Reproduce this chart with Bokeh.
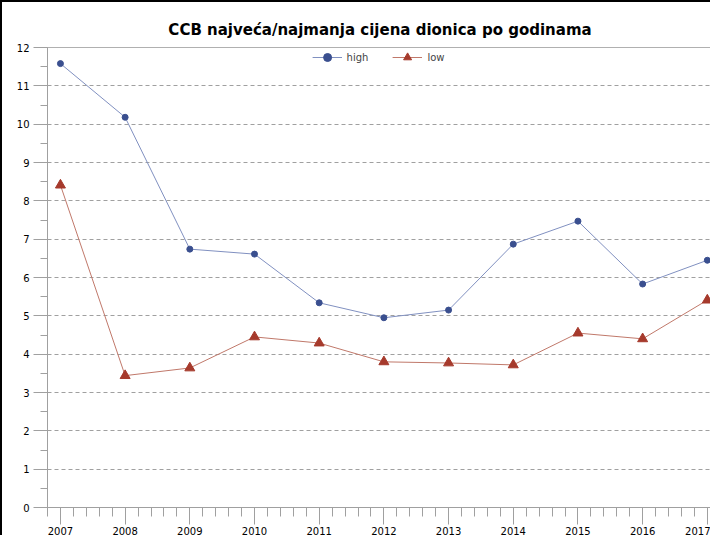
from bokeh.plotting import figure
from bokeh.models import SingleIntervalTicker, Range1d, Legend, LegendItem
from bokeh.embed import file_html
from bokeh.resources import INLINE

years = [2007, 2008, 2009, 2010, 2011, 2012, 2013, 2014, 2015, 2016, 2017]
high = [11.58, 10.18, 6.74, 6.61, 5.34, 4.95, 5.15, 6.87, 7.47, 5.83, 6.45]
low = [8.41, 3.44, 3.64, 4.45, 4.29, 3.80, 3.77, 3.72, 4.55, 4.40, 5.41]
title_text = "CCB najveća/najmanja cijena dionica po godinama"

FONT = "DejaVu Sans"

p = figure(width=710, height=535, output_backend="svg", toolbar_location=None,
           x_range=Range1d(2006.8, 2017.08), y_range=Range1d(0, 12),
           title=title_text,
           min_border_left=45, min_border_right=0, min_border_top=45, min_border_bottom=28,
           styles={"border-left": "2px solid black", "border-top": "2px solid black"})

p.title.align = "center"
p.title.text_font = FONT
p.title.text_font_size = "15px"
p.title.text_font_style = "bold"
p.title.text_color = "black"
p.title.standoff = 18

p.outline_line_color = "#b0b0b0"
p.background_fill_color = "white"
p.border_fill_color = "white"

# axes
p.xaxis.ticker = SingleIntervalTicker(interval=1, num_minor_ticks=5)
p.yaxis.ticker = SingleIntervalTicker(interval=1, num_minor_ticks=2)
for ax in (p.xaxis[0], p.yaxis[0]):
    ax.axis_line_color = "#a0a0a0"
    ax.major_tick_line_color = "#a0a0a0"
    ax.minor_tick_line_color = "#a0a0a0"
    ax.major_label_text_font = FONT
    ax.major_label_text_font_size = "10px"
    ax.major_label_text_color = "black"
    ax.major_tick_in = 0
    ax.minor_tick_in = 0
p.xaxis.major_tick_out = 17
p.xaxis.minor_tick_out = 9
p.xaxis.major_label_standoff = 2
p.yaxis.major_tick_out = 14
p.yaxis.minor_tick_out = 7
p.yaxis.major_label_standoff = 4

p.xgrid.grid_line_color = None
p.ygrid.grid_line_color = "#a0a0a0"
p.ygrid.grid_line_dash = "4 3"

# series
hl = p.line(years, high, line_color="#8090c0", line_width=1)
hs = p.scatter(years, high, marker="circle", size=6, fill_color="#3a4f8f", line_color="#3a4f8f")
ll = p.line(years, low, line_color="#c0786a", line_width=1)
ls = p.scatter(years, low, marker="triangle", size=10, fill_color="#a63a2c", line_color="#a63a2c")

legend = Legend(items=[LegendItem(label="high", renderers=[hl, hs]),
                       LegendItem(label="low", renderers=[ll, ls])],
                location="top_center", orientation="horizontal",
                border_line_color=None, background_fill_alpha=0,
                label_text_font=FONT, label_text_font_size="10px",
                glyph_width=30, spacing=24, margin=0, padding=2)
p.add_layout(legend)

open("out.html", "w").write(file_html(p, INLINE))
